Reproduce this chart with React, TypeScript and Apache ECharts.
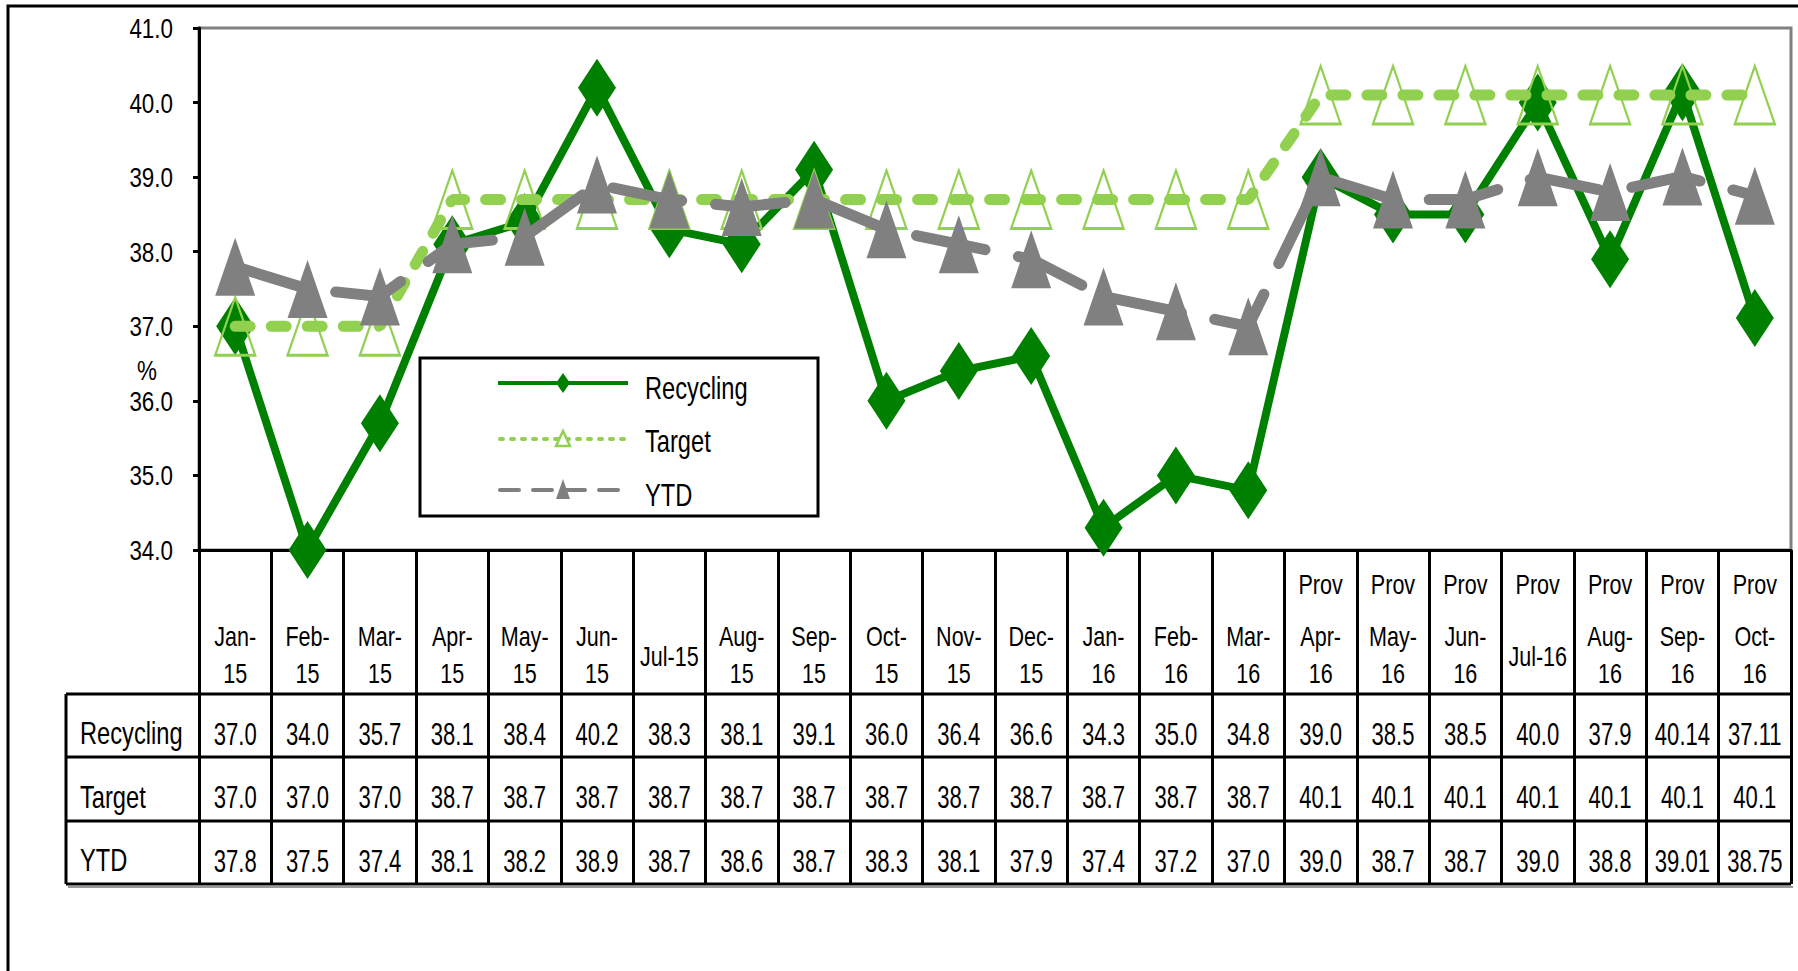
import { useEffect, useRef } from 'react';
import * as echarts from 'echarts';

// ---------- data ----------
const categoryLabels = [
  'Jan-\n15', 'Feb-\n15', 'Mar-\n15', 'Apr-\n15', 'May-\n15', 'Jun-\n15', 'Jul-15', 'Aug-\n15', 'Sep-\n15', 'Oct-\n15', 'Nov-\n15', 'Dec-\n15',
  'Jan-\n16', 'Feb-\n16', 'Mar-\n16', 'Prov\nApr-\n16', 'Prov\nMay-\n16', 'Prov\nJun-\n16', 'Prov\nJul-16', 'Prov\nAug-\n16', 'Prov\nSep-\n16', 'Prov\nOct-\n16',
];
const recycling = [37.0, 34.0, 35.7, 38.1, 38.4, 40.2, 38.3, 38.1, 39.1, 36.0, 36.4, 36.6, 34.3, 35.0, 34.8, 39.0, 38.5, 38.5, 40.0, 37.9, 40.14, 37.11];
const target = [37.0, 37.0, 37.0, 38.7, 38.7, 38.7, 38.7, 38.7, 38.7, 38.7, 38.7, 38.7, 38.7, 38.7, 38.7, 40.1, 40.1, 40.1, 40.1, 40.1, 40.1, 40.1];
const ytd = [37.8, 37.5, 37.4, 38.1, 38.2, 38.9, 38.7, 38.6, 38.7, 38.3, 38.1, 37.9, 37.4, 37.2, 37.0, 39.0, 38.7, 38.7, 39.0, 38.8, 39.01, 38.75];
const seriesNames = ['Recycling', 'Target', 'YTD'];
const yTicks = [34, 35, 36, 37, 38, 39, 40, 41];
const yUnit = '%';

// ---------- styles / layout ----------
const GREEN = '#008000';
const LIGHT = '#92D050';
const GREY = '#808080';
const FONT = "'Liberation Sans', Arial, sans-serif";
const GRID = { left: 199, top: 28, right: 1791, bottom: 550 };
const TABLE_LEFT = 66;
const ROW_LINES = [694, 757, 821, 884];

const fmt = (v: number) => (Math.abs(v * 10 - Math.round(v * 10)) < 1e-6 ? v.toFixed(1) : v.toFixed(2));

function txt(text: string, x: number, y: number, size: number, sx: number, align = 'center') {
  return {
    type: 'text', x, y, scaleX: sx, z: 50,
    style: {
      text, fontSize: size, fontFamily: FONT, fill: '#000',
      textAlign: align, textVerticalAlign: 'middle', align, verticalAlign: 'middle',
    },
  } as any;
}
function hline(x1: number, x2: number, y: number, w = 3, c = '#000') {
  return { type: 'line', z: 40, shape: { x1, y1: y, x2, y2: y }, style: { stroke: c, lineWidth: w } };
}

export default function App() {
  const ref = useRef<HTMLDivElement>(null);
  useEffect(() => {
    if (!ref.current) return;
    const chart = echarts.init(ref.current, undefined, { renderer: 'svg' });
    chart.setOption({
      animation: false,
      backgroundColor: '#fff',
      grid: {
        left: GRID.left, top: GRID.top, width: GRID.right - GRID.left, height: GRID.bottom - GRID.top,
        show: true, borderColor: GREY, borderWidth: 3, backgroundColor: 'transparent',
      },
      xAxis: {
        type: 'category', data: categoryLabels, boundaryGap: true,
        axisLine: { lineStyle: { color: '#000', width: 3 } },
        axisTick: { show: true, interval: 0, length: ROW_LINES[3] - GRID.bottom, lineStyle: { color: '#000', width: 3 } },
        axisLabel: { show: false },
        splitLine: { show: false },
      },
      yAxis: {
        type: 'value', min: yTicks[0], max: yTicks[yTicks.length - 1], interval: yTicks[1] - yTicks[0],
        axisLine: { show: true, lineStyle: { color: '#000', width: 3 } },
        axisTick: { show: true, length: 6, lineStyle: { color: '#000', width: 3 } },
        axisLabel: { show: false },
        splitLine: { show: false },
      },
      series: [
        {
          name: seriesNames[0], type: 'line', data: recycling, z: 2,
          showSymbol: true, showAllSymbol: true,
          symbol: 'diamond', symbolSize: [38, 58],
          itemStyle: { color: GREEN },
          lineStyle: { color: GREEN, width: 8, join: 'miter' },
        },
        {
          name: seriesNames[1], type: 'line', data: target, z: 3,
          showSymbol: true, showAllSymbol: true,
          symbol: 'triangle', symbolSize: [40, 58],
          itemStyle: { color: 'rgba(255,255,255,0)', borderColor: LIGHT, borderWidth: 2.5 },
          lineStyle: { color: LIGHT, width: 11, type: [15, 21], cap: 'round' },
        },
        {
          name: seriesNames[2], type: 'line', data: ytd, z: 4,
          showSymbol: true, showAllSymbol: true,
          symbol: 'triangle', symbolSize: [40, 58],
          itemStyle: { color: GREY },
          lineStyle: { color: GREY, width: 11, type: [70, 34], cap: 'round' },
        },
      ],
    });

    const xs = categoryLabels.map((_, i) => chart.convertToPixel({ xAxisIndex: 0 }, i) as number);
    const g: any[] = [];
    // outer frame
    g.push({ type: 'polyline', z: 40, shape: { points: [[8, 990], [8, 6], [1810, 6]] }, style: { stroke: '#000', lineWidth: 3, fill: 'none' } });
    // y tick labels
    yTicks.forEach((t) => {
      const y = chart.convertToPixel({ yAxisIndex: 0 }, t) as number;
      g.push(txt(t.toFixed(1), 173, y, 28, 0.8, 'right'));
    });
    // % unit
    g.push(txt(yUnit, 147, 370, 28, 0.8));
    // table lines
    ROW_LINES.forEach((y) => g.push(hline(TABLE_LEFT, GRID.right, y)));
    g.push(hline(TABLE_LEFT + 2, GRID.right + 2, ROW_LINES[3] + 3, 2, '#999'));
    g.push({ type: 'line', z: 40, shape: { x1: TABLE_LEFT, y1: ROW_LINES[0], x2: TABLE_LEFT, y2: ROW_LINES[3] }, style: { stroke: '#000', lineWidth: 3 } });
    // category labels
    categoryLabels.forEach((lab, i) => {
      const parts = lab.split('\n');
      let rest = parts;
      if (parts[0] === 'Prov') {
        g.push(txt('Prov', xs[i], 584, 28, 0.77));
        rest = parts.slice(1);
      }
      if (rest.length === 1) g.push(txt(rest[0], xs[i], 656, 28, 0.77));
      else {
        g.push(txt(rest[0], xs[i], 636, 28, 0.77));
        g.push(txt(rest[1], xs[i], 673, 28, 0.77));
      }
    });
    // table rows
    const rows = [recycling, target, ytd];
    rows.forEach((vals, r) => {
      const cy = (ROW_LINES[r] + ROW_LINES[r + 1]) / 2 + 8;
      g.push(txt(seriesNames[r], 80, cy, 32, 0.74, 'left'));
      vals.forEach((v, i) => g.push(txt(fmt(v), xs[i], cy, 32, 0.69)));
    });
    // legend
    const LX = 420, LY = 358, LW = 398, LH = 158;
    g.push({ type: 'rect', z: 60, shape: { x: LX, y: LY, width: LW, height: LH }, style: { fill: '#fff', stroke: '#000', lineWidth: 3 } });
    const lx1 = 498, lx2 = 628, mx = 563;
    const ly = [383, 439, 490];
    g.push({ type: 'line', z: 61, shape: { x1: lx1, y1: ly[0], x2: lx2, y2: ly[0] }, style: { stroke: GREEN, lineWidth: 4 } });
    g.push({ type: 'polygon', z: 62, shape: { points: [[mx, ly[0] - 10], [mx + 7, ly[0]], [mx, ly[0] + 10], [mx - 7, ly[0]]] }, style: { fill: GREEN } });
    g.push({ type: 'line', z: 61, shape: { x1: lx1 + 2, y1: ly[1], x2: lx2 - 2, y2: ly[1] }, style: { stroke: LIGHT, lineWidth: 4, lineDash: [3, 8], lineCap: 'round' } });
    g.push({ type: 'polygon', z: 62, shape: { points: [[mx, ly[1] - 8], [mx + 7, ly[1] + 7], [mx - 7, ly[1] + 7]] }, style: { fill: '#fff', stroke: LIGHT, lineWidth: 2.5 } });
    g.push({ type: 'line', z: 61, shape: { x1: lx1 + 2, y1: ly[2], x2: lx2 - 2, y2: ly[2] }, style: { stroke: GREY, lineWidth: 4, lineDash: [19, 14], lineCap: 'round' } });
    g.push({ type: 'polygon', z: 62, shape: { points: [[mx, ly[2] - 11], [mx + 7, ly[2] + 9], [mx - 7, ly[2] + 9]] }, style: { fill: GREY } });
    const lt = [388, 441, 495];
    seriesNames.forEach((n, i) => {
      const t = txt(n, 645, lt[i], 32, 0.74, 'left');
      t.z = 63;
      g.push(t);
    });
    chart.setOption({ graphic: { elements: g } });

    return () => chart.dispose();
  }, []);
  return <div ref={ref} style={{ position: 'fixed', left: 0, top: 0, width: 1798, height: 971 }} />;
}
